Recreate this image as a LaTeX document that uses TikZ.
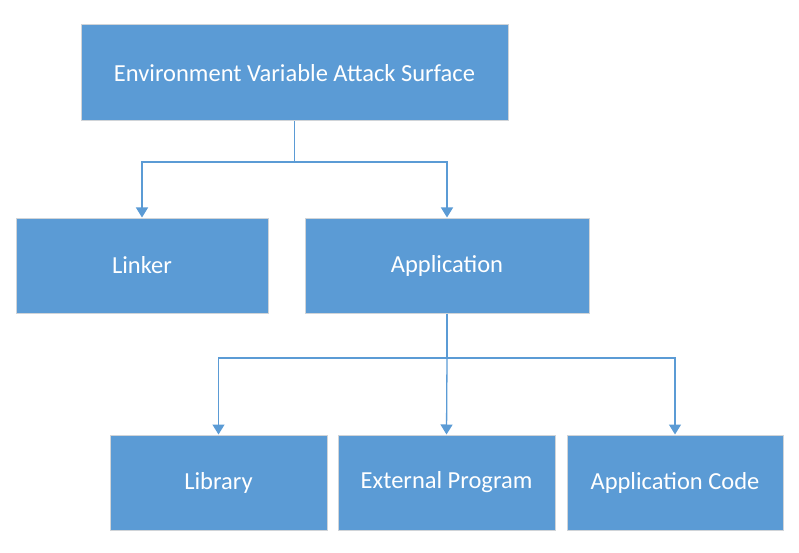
\documentclass[tikz,border=0pt]{standalone}
\usepackage{fontspec}
\setmainfont{Carlito}
\usetikzlibrary{arrows.meta}
\definecolor{boxblue}{HTML}{5B9BD5}
\definecolor{edgegray}{HTML}{D0D4D8}
\definecolor{lineblue}{HTML}{5B9BD5}
\begin{document}
\begin{tikzpicture}[x=1pt,y=-1pt,
  blockbox/.style={draw=edgegray,line width=1pt,fill=boxblue,text=white,font=\fontsize{24.5}{28}\selectfont},
  conn/.style={draw=lineblue,line width=1.3pt},
  arr/.style={conn,-{Triangle[length=10pt,width=12pt]}}]
\useasboundingbox (0,0) rectangle (799,553);
\node[blockbox,minimum width=427pt,minimum height=96pt] (top) at (294.5,73) {Environment Variable Attack Surface};
\node[blockbox,minimum width=252pt,minimum height=95pt] (linker) at (142,265.5) {Linker};
\node[blockbox,minimum width=284pt,minimum height=95pt] (app) at (447,265.5) {Application};
\node[blockbox,minimum width=217pt,minimum height=95pt] (lib) at (218.5,482.5) {Library};
\node[blockbox,minimum width=217pt,minimum height=95pt] (ext) at (446.5,482.5) {External Program};
\node[blockbox,minimum width=216pt,minimum height=95pt] (code) at (675,482.5) {Application Code};
\coordinate (j1) at (294.5,162);
\coordinate (j2) at (447,358);
\draw[conn] (top.south) -- (j1);
\draw[arr] (j1) -| (linker.north);
\draw[arr] (j1) -| (app.north);
\draw[conn] (app.south) -- (j2);
\draw[arr] (j2) -| (lib.north);
\draw[arr] (j2) -- (ext.north);
\draw[arr] (j2) -| (code.north);
\end{tikzpicture}
\end{document}
